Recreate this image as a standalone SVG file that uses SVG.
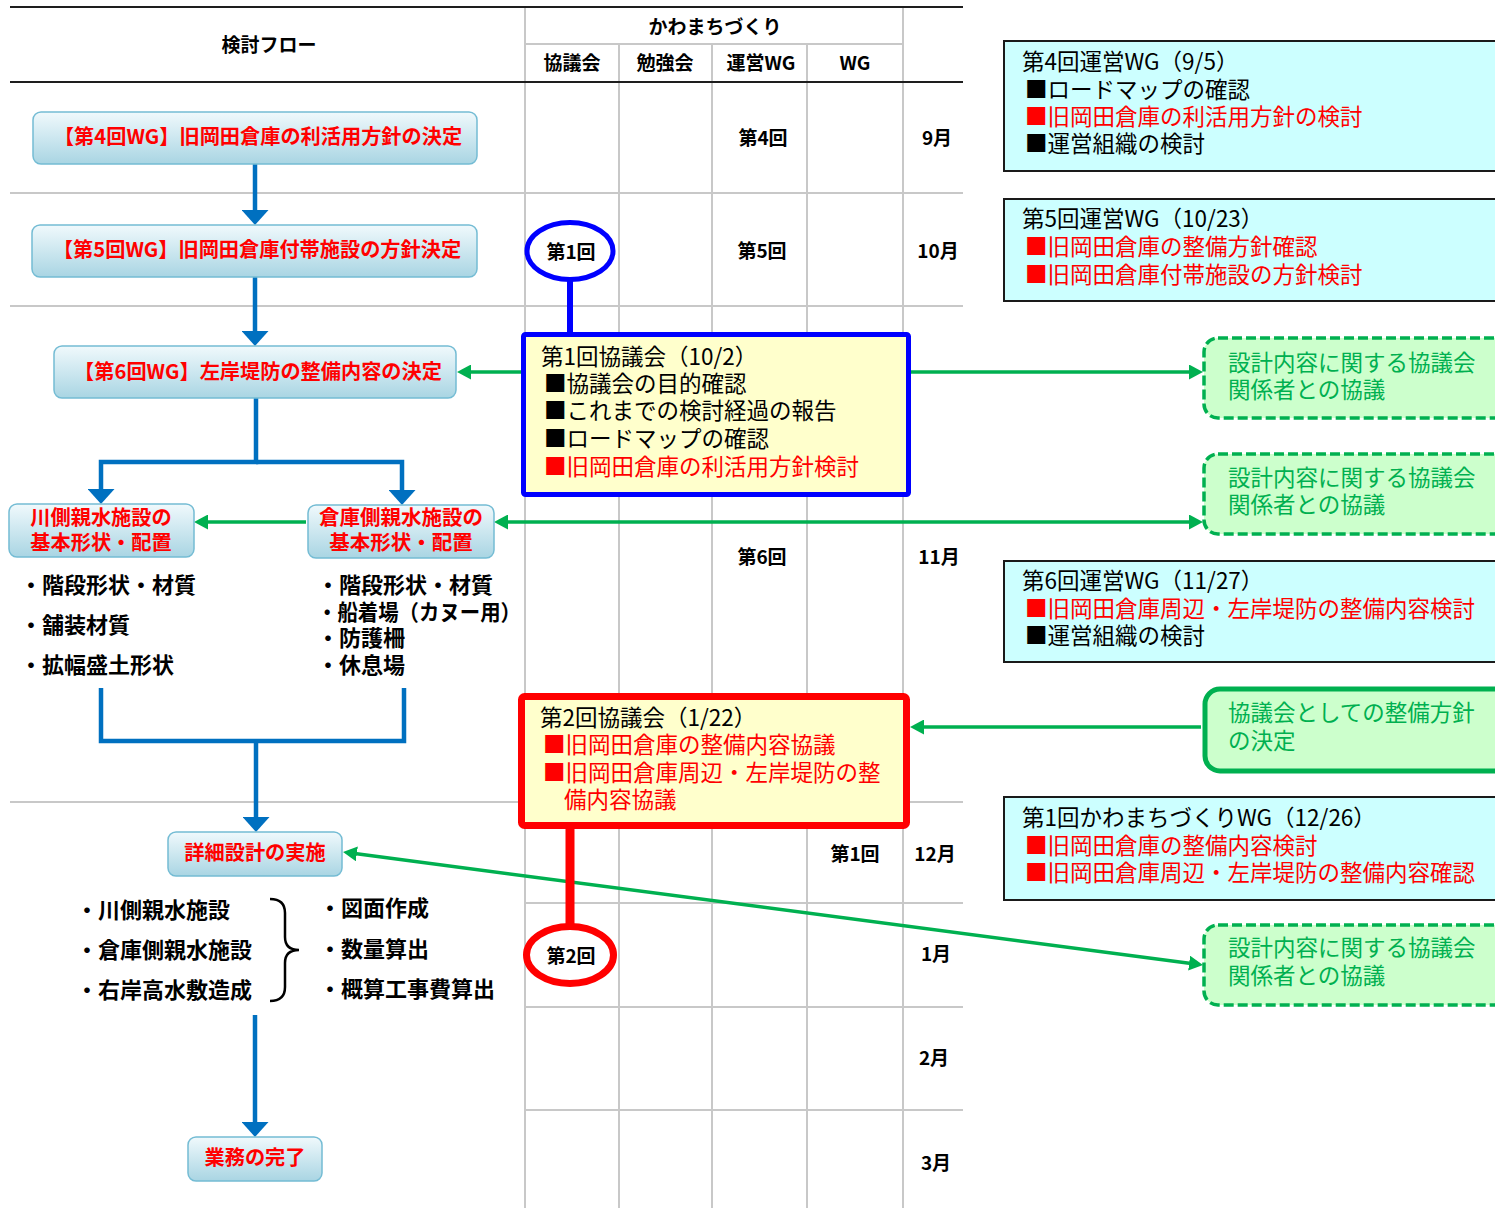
<svg xmlns="http://www.w3.org/2000/svg" width="1495" height="1208" viewBox="0 0 1495 1208">
<style>
text{font-family:"Noto Sans CJK JP","Noto Sans",sans-serif;dominant-baseline:central;transform:translateY(-2px)}
.grid{stroke:#c8c8c8;stroke-width:2;fill:none}
.hdr{stroke:#1e1e1e;stroke-width:2;fill:none}
.th{font-size:19px;font-weight:bold;fill:#000;text-anchor:middle}
.flow rect{fill:url(#gb);stroke:#74bcd4;stroke-width:1.5}
.ft{font-size:20.2px;font-weight:bold;fill:#ff0000;text-anchor:middle}
.lst{font-size:22px;font-weight:bold;fill:#000}
.bx{font-size:22.5px;fill:#000}
.r{fill:#ff0000}
.g{fill:#00b050}
.cy{fill:#ccffff;stroke:#1a1a1a;stroke-width:2}
.gd{fill:#ccffcc;stroke:#00b050;stroke-width:3.5;stroke-dasharray:10 4}
.gs{fill:#ccffcc;stroke:#00b050;stroke-width:5}
.bl{stroke:#0070c0;stroke-width:4.5;fill:none}
.gr{stroke:#00b050;stroke-width:3.5;fill:none}
</style>
<defs>
<linearGradient id="gb" x1="0" y1="0" x2="0" y2="1">
<stop offset="0" stop-color="#f0f9fc"/>
<stop offset="1" stop-color="#a9d5e3"/>
</linearGradient>
<marker id="ab" markerUnits="userSpaceOnUse" markerWidth="15" markerHeight="27" refX="5" refY="13.5" orient="auto">
<path d="M0,0 L15,13.5 L0,27 z" fill="#0070c0"/>
</marker>
<marker id="ag" markerUnits="userSpaceOnUse" markerWidth="14" markerHeight="15" refX="4" refY="7.5" orient="auto-start-reverse">
<path d="M0,0 L14,7.5 L0,15 z" fill="#00b050"/>
</marker>
</defs>
<rect width="1495" height="1208" fill="#fff"/>

<g id="table">
<line class="grid" x1="10" y1="193" x2="963" y2="193"/>
<line class="grid" x1="10" y1="306" x2="963" y2="306"/>
<line class="grid" x1="10" y1="802" x2="963" y2="802"/>
<line class="grid" x1="525" y1="903" x2="963" y2="903"/>
<line class="grid" x1="525" y1="1007" x2="963" y2="1007"/>
<line class="grid" x1="525" y1="1110" x2="963" y2="1110"/>
<line class="grid" x1="525" y1="44" x2="903" y2="44"/>
<line class="grid" x1="525" y1="7" x2="525" y2="1208"/>
<line class="grid" x1="903" y1="7" x2="903" y2="1208"/>
<line class="grid" x1="619" y1="44" x2="619" y2="1208"/>
<line class="grid" x1="712" y1="44" x2="712" y2="1208"/>
<line class="grid" x1="807" y1="44" x2="807" y2="1208"/>
<line class="hdr" x1="10" y1="7" x2="963" y2="7"/>
<line class="hdr" x1="10" y1="82" x2="963" y2="82"/>
<text class="th" x="269" y="45">検討フロー</text>
<text class="th" x="715" y="27">かわまちづくり</text>
<text class="th" x="572" y="63">協議会</text>
<text class="th" x="665" y="63">勉強会</text>
<text class="th" x="761" y="63">運営WG</text>
<text class="th" x="855" y="63">WG</text>
<text class="th" x="763" y="138">第4回</text>
<text class="th" x="937" y="138">9月</text>
<text class="th" x="762" y="251">第5回</text>
<text class="th" x="938" y="251">10月</text>
<text class="th" x="762" y="557">第6回</text>
<text class="th" x="939" y="557">11月</text>
<text class="th" x="855" y="854">第1回</text>
<text class="th" x="935" y="854">12月</text>
<text class="th" x="936" y="954">1月</text>
<text class="th" x="934" y="1058">2月</text>
<text class="th" x="936" y="1163">3月</text>
</g>

<g id="connectors">
<path class="bl" d="M255,164 V215" marker-end="url(#ab)"/>
<path class="bl" d="M255,277 V336" marker-end="url(#ab)"/>
<path class="bl" d="M256,398 V462 H101 V494" marker-end="url(#ab)"/>
<path class="bl" d="M256,462 H402 V495" marker-end="url(#ab)"/>
<path class="bl" d="M101,688 V741 H404 V688"/>
<path class="bl" d="M256,741 V822" marker-end="url(#ab)"/>
<path class="bl" d="M255,1015 V1127" marker-end="url(#ab)"/>
<path class="gr" d="M521,372 H467" marker-end="url(#ag)"/>
<path class="gr" d="M911,372 H1193" marker-end="url(#ag)"/>
<path class="gr" d="M504,522 H1193" marker-start="url(#ag)" marker-end="url(#ag)"/>
<path class="gr" d="M306,522 H204" marker-end="url(#ag)"/>
<path class="gr" d="M1201,727 H920" marker-end="url(#ag)"/>
<path class="gr" d="M352.9,853.3 L1193.1,963.7" marker-start="url(#ag)" marker-end="url(#ag)"/>
<line x1="570" y1="281" x2="570" y2="334" stroke="#0000ff" stroke-width="6"/>
<line x1="570" y1="826" x2="570" y2="925" stroke="#ff0000" stroke-width="9"/>
</g>

<g id="flow1" class="flow"><rect x="33" y="112" width="444" height="52" rx="8"/><text class="ft" x="258" y="137">【第4回WG】旧岡田倉庫の利活用方針の決定</text></g>
<g id="flow2" class="flow"><rect x="32" y="225" width="445" height="52" rx="8"/><text class="ft" x="257" y="250">【第5回WG】旧岡田倉庫付帯施設の方針決定</text></g>
<g id="flow3" class="flow"><rect x="54" y="346" width="402" height="52" rx="8"/><text class="ft" x="258" y="372">【第6回WG】左岸堤防の整備内容の決定</text></g>
<g id="flow4" class="flow"><rect x="9" y="504" width="185" height="53" rx="8"/><text class="ft" x="101" y="518" font-size="20.5">川側親水施設の</text><text class="ft" x="101" y="543" font-size="20.5">基本形状・配置</text></g>
<g id="flow5" class="flow"><rect x="308" y="505" width="186" height="53" rx="8"/><text class="ft" x="401" y="518" style="font-size:20.5px">倉庫側親水施設の</text><text class="ft" x="401" y="543" style="font-size:20.5px">基本形状・配置</text></g>
<g id="flow6" class="flow"><rect x="168" y="832" width="174" height="44" rx="8"/><text class="ft" x="255" y="853">詳細設計の実施</text></g>
<g id="flow7" class="flow"><rect x="188" y="1137" width="134" height="44" rx="8"/><text class="ft" x="255" y="1158">業務の完了</text></g>

<g id="list-left">
<text class="lst" x="20" y="585">・階段形状・材質</text>
<text class="lst" x="20" y="625">・舗装材質</text>
<text class="lst" x="20" y="665">・拡幅盛土形状</text>
</g>
<g id="list-right">
<text class="lst" x="317" y="585">・階段形状・材質</text>
<text class="lst" x="317" y="612" textLength="204" lengthAdjust="spacingAndGlyphs">・船着場（カヌー用）</text>
<text class="lst" x="317" y="638">・防護柵</text>
<text class="lst" x="317" y="665">・休息場</text>
</g>
<g id="detail-list">
<text class="lst" x="76" y="910">・川側親水施設</text>
<text class="lst" x="76" y="950">・倉庫側親水施設</text>
<text class="lst" x="76" y="990">・右岸高水敷造成</text>
<path d="M270,899 Q285,899 285,913 V937 Q285,950 299,950 Q285,950 285,963 V987 Q285,1001 270,1001" fill="none" stroke="#000" stroke-width="2.5"/>
<text class="lst" x="319" y="908">・図面作成</text>
<text class="lst" x="319" y="949">・数量算出</text>
<text class="lst" x="319" y="989">・概算工事費算出</text>
</g>

<g id="circle1">
<ellipse cx="570" cy="251" rx="43" ry="28.5" fill="#fff" stroke="#0000ff" stroke-width="5"/>
<text class="th" x="571" y="252">第1回</text>
</g>
<g id="circle2">
<ellipse cx="570" cy="955" rx="43.5" ry="28.5" fill="#fff" stroke="#ff0000" stroke-width="7"/>
<text class="th" x="571" y="956">第2回</text>
</g>

<g id="kyogikai1">
<rect x="523.5" y="334.5" width="385" height="160" rx="2" fill="#ffffcc" stroke="#0000ff" stroke-width="5"/>
<text class="bx" x="541" y="357">第1回協議会（10/2）</text>
<text class="bx" x="544" y="384">■協議会の目的確認</text>
<text class="bx" x="544" y="411">■これまでの検討経過の報告</text>
<text class="bx" x="544" y="439">■ロードマップの確認</text>
<text class="bx r" x="544" y="467">■旧岡田倉庫の利活用方針検討</text>
</g>
<g id="kyogikai2">
<rect x="521.5" y="696.5" width="385" height="129" rx="3" fill="#ffffcc" stroke="#ff0000" stroke-width="7"/>
<text class="bx" x="540" y="718">第2回協議会（1/22）</text>
<text class="bx r" x="543" y="745">■旧岡田倉庫の整備内容協議</text>
<text class="bx r" x="543" y="773">■旧岡田倉庫周辺・左岸堤防の整</text>
<text class="bx r" x="564" y="800">備内容協議</text>
</g>

<g id="wg4">
<rect class="cy" x="1004" y="41" width="510" height="130"/>
<text class="bx" x="1022" y="62">第4回運営WG（9/5）</text>
<text class="bx" x="1025" y="90">■ロードマップの確認</text>
<text class="bx r" x="1025" y="117">■旧岡田倉庫の利活用方針の検討</text>
<text class="bx" x="1025" y="144">■運営組織の検討</text>
</g>
<g id="wg5">
<rect class="cy" x="1004" y="199" width="510" height="102"/>
<text class="bx" x="1022" y="219">第5回運営WG（10/23）</text>
<text class="bx r" x="1025" y="247">■旧岡田倉庫の整備方針確認</text>
<text class="bx r" x="1025" y="275">■旧岡田倉庫付帯施設の方針検討</text>
</g>
<g id="wg6">
<rect class="cy" x="1004" y="561" width="510" height="101"/>
<text class="bx" x="1022" y="581">第6回運営WG（11/27）</text>
<text class="bx r" x="1025" y="609">■旧岡田倉庫周辺・左岸堤防の整備内容検討</text>
<text class="bx" x="1025" y="636">■運営組織の検討</text>
</g>
<g id="kwg1">
<rect class="cy" x="1004" y="797" width="510" height="103"/>
<text class="bx" x="1022" y="818">第1回かわまちづくりWG（12/26）</text>
<text class="bx r" x="1025" y="846">■旧岡田倉庫の整備内容検討</text>
<text class="bx r" x="1025" y="873">■旧岡田倉庫周辺・左岸堤防の整備内容確認</text>
</g>

<g id="green1">
<rect class="gd" x="1204" y="338" width="310" height="80" rx="14"/>
<text class="bx g" x="1228" y="363">設計内容に関する協議会</text>
<text class="bx g" x="1228" y="390">関係者との協議</text>
</g>
<g id="green2">
<rect class="gd" x="1204" y="454" width="310" height="80" rx="14"/>
<text class="bx g" x="1228" y="478">設計内容に関する協議会</text>
<text class="bx g" x="1228" y="505">関係者との協議</text>
</g>
<g id="green3">
<rect class="gs" x="1205" y="689" width="310" height="82" rx="15"/>
<text class="bx g" x="1228" y="713">協議会としての整備方針</text>
<text class="bx g" x="1228" y="741">の決定</text>
</g>
<g id="green4">
<rect class="gd" x="1204" y="925" width="310" height="80" rx="14"/>
<text class="bx g" x="1228" y="948">設計内容に関する協議会</text>
<text class="bx g" x="1228" y="976">関係者との協議</text>
</g>
</svg>
